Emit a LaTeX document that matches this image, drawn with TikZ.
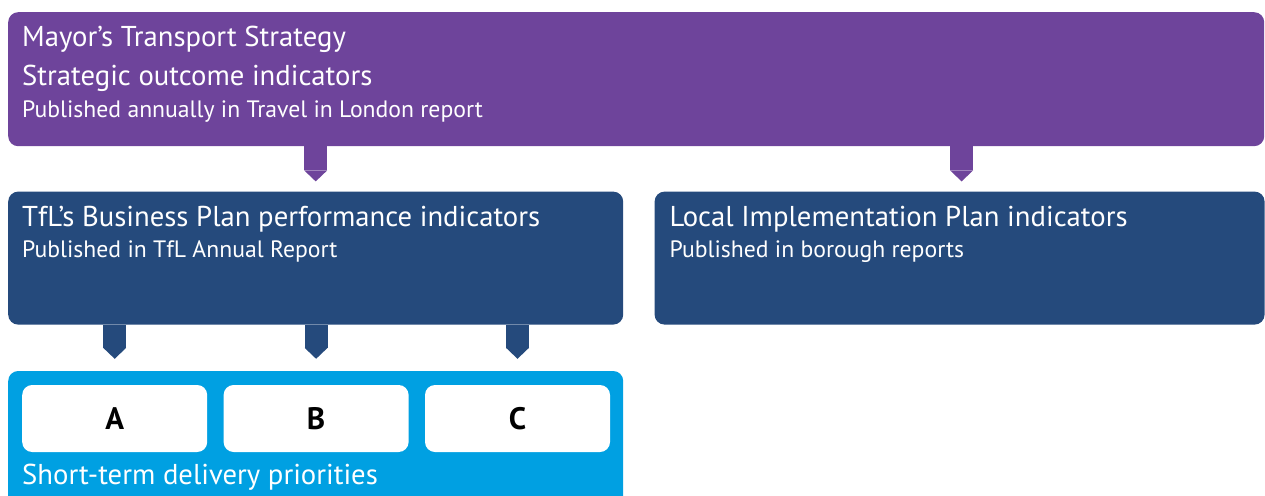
\documentclass[tikz,border=0pt]{standalone}
\usepackage{fontspec}
\setmainfont{PT Sans}
\usetikzlibrary{positioning,arrows.meta}
\definecolor{mtspurple}{HTML}{6E449B}
\definecolor{tfldark}{HTML}{254A7C}
\definecolor{tfllight}{HTML}{00A0E2}
\tikzset{
  box/.style={rectangle, rounded corners=10pt, inner sep=0pt, anchor=north west},
  head/.style={anchor=base west, inner sep=0pt, text=white, font=\fontsize{28.7}{32}\selectfont},
  sub/.style={anchor=base west, inner sep=0pt, text=white, font=\fontsize{23.7}{26}\selectfont},
  tab/.style={line width=23pt, draw=#1, -{Triangle[width=23pt,length=11pt,line width=0pt]}},
  letter/.style={box, fill=white, minimum width=185pt, minimum height=67pt, font=\fontsize{31}{36}\selectfont\bfseries}
}

\begin{document}
\begin{tikzpicture}[x=1pt, y=-1pt]
	\useasboundingbox (0,0) rectangle (1265,495);
	% boxes
	\node[box, fill=mtspurple, minimum width=1256pt, minimum height=134pt] (mts) at (8,12) {};
	\node[box, fill=tfldark, minimum width=615pt, minimum height=133pt, below right=45pt and 0pt of mts.south west] (tfl) {};
	\node[box, fill=tfldark, minimum width=610pt, minimum height=133pt, anchor=west, right=31pt of tfl] (loc) {};
	\node[box, fill=tfllight, minimum width=615pt, minimum height=140pt, below right=46pt and 0pt of tfl.south west] (stp) {};
	\node[letter, below right=14pt and 14pt of stp.north west] (a) {A};
	\node[letter, right=16pt of a] (b) {B};
	\node[letter, right=16pt of b] (c) {C};
	% texts
	\node[head] (mtsa) at ([xshift=14pt,yshift=-35pt]mts.north west) {Mayor’s Transport Strategy};
	\node[head] (mtsb) at ([xshift=14pt,yshift=-73pt]mts.north west) {Strategic outcome indicators};
	\node[sub] (mtsc) at ([xshift=14pt,yshift=-105pt]mts.north west) {Published annually in Travel in London report};
	\node[head] (tfla) at ([xshift=14pt,yshift=-35pt]tfl.north west) {TfL’s Business Plan performance indicators};
	\node[sub] (tflb) at ([xshift=14pt,yshift=-66pt]tfl.north west) {Published in TfL Annual Report};
	\node[head] (loca) at ([xshift=15pt,yshift=-35pt]loc.north west) {Local Implementation Plan indicators};
	\node[sub] (locb) at ([xshift=15pt,yshift=-66pt]loc.north west) {Published in borough reports};
	\node[head] (stpa) at ([xshift=14pt,yshift=-114pt]stp.north west) {Short-term delivery priorities};
	% tabs
	\draw[tab=mtspurple] (mts.south -| tfl.north) -- ([yshift=10pt]tfl.north);
	\draw[tab=mtspurple] ([xshift=2pt]mts.south -| loc.north) -- ([xshift=2pt,yshift=10pt]loc.north);
	\foreach \n in {a,b,c}
	  \draw[tab=tfldark] (tfl.south -| \n.north) -- ([yshift=26pt]\n.north);
\end{tikzpicture}
\end{document}
